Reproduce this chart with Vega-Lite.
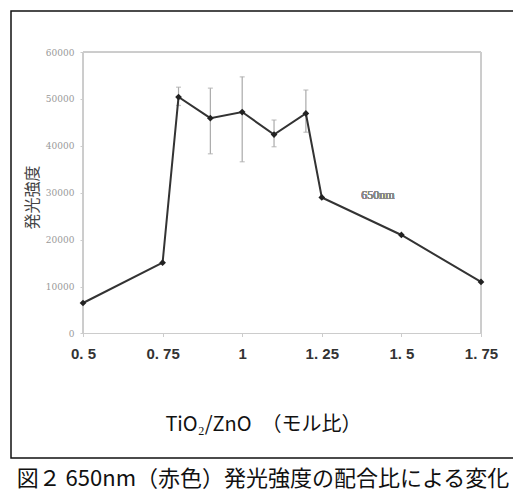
{
  "$schema": "https://vega.github.io/schema/vega-lite/v6.json",
  "width": 504,
  "height": 447,
  "autosize": {"type": "none"},
  "padding": {"left": 11, "top": 11, "right": 0, "bottom": 41},
  "background": "white",
  "title": {
    "text": "図２ 650nm（赤色）発光強度の配合比による変化",
    "orient": "bottom",
    "anchor": "middle",
    "fontSize": 22,
    "font": "Noto Sans CJK JP",
    "fontWeight": "normal",
    "color": "#111",
    "offset": 11
  },
  "config": {
    "view": {"stroke": "#111", "strokeWidth": 1.5, "fill": "white"}
  },
  "data": {
    "values": [
      {"x": 0.5, "y": 6500},
      {"x": 0.75, "y": 15100},
      {"x": 0.8, "y": 50400, "lo": 48600, "hi": 52500},
      {"x": 0.9, "y": 45900, "lo": 38300, "hi": 52300},
      {"x": 1.0, "y": 47200, "lo": 36600, "hi": 54700},
      {"x": 1.1, "y": 42400, "lo": 39800, "hi": 45500},
      {"x": 1.2, "y": 46900, "lo": 42900, "hi": 51900},
      {"x": 1.25, "y": 29000},
      {"x": 1.5, "y": 21000},
      {"x": 1.75, "y": 11000}
    ]
  },
  "encoding": {
    "x": {
      "field": "x",
      "type": "quantitative",
      "scale": {"domain": [0.27387, 1.8568], "nice": false, "zero": false},
      "axis": {
        "values": [0.5, 0.75, 1, 1.25, 1.5, 1.75],
        "labelExpr": "replace(toString(datum.value), '.', '. ')",
        "offset": -124.5,
        "domain": false,
        "grid": false,
        "ticks": true,
        "tickSize": 3,
        "tickColor": "#ccc",
        "labelFont": "Liberation Sans",
        "labelFontWeight": "bold",
        "labelFontSize": 15,
        "labelColor": "#333",
        "labelPadding": 10,
        "title": "TiO₂/ZnO　（モル比）",
        "titleFont": "Noto Sans CJK JP",
        "titleFontWeight": "normal",
        "titleFontSize": 20,
        "titleColor": "#111",
        "titlePadding": 53
      }
    },
    "y": {
      "field": "y",
      "type": "quantitative",
      "scale": {"domain": [-26537, 68739], "nice": false, "zero": false},
      "axis": {
        "values": [0, 10000, 20000, 30000, 40000, 50000, 60000],
        "format": "d",
        "offset": -72,
        "domain": false,
        "grid": false,
        "tickSize": 3,
        "tickColor": "#ccc",
        "labelFont": "DejaVu Serif",
        "labelFontSize": 9,
        "labelColor": "#999",
        "labelPadding": 6,
        "title": "発光強度",
        "titleFont": "Noto Sans CJK JP",
        "titleFontWeight": "normal",
        "titleFontSize": 16,
        "titleColor": "#444",
        "titlePadding": 5,
        "titleY": 186
      }
    }
  },
  "layer": [
    {
      "mark": {"type": "rule", "color": "#ccc", "strokeWidth": 1},
      "encoding": {"x": {"datum": 0.5}, "x2": {"datum": 1.75}, "y": {"datum": 60000}}
    },
    {
      "mark": {"type": "rule", "color": "#ccc", "strokeWidth": 1},
      "encoding": {"x": {"datum": 0.5}, "x2": {"datum": 1.75}, "y": {"datum": 0}}
    },
    {
      "mark": {"type": "rule", "color": "#ccc", "strokeWidth": 1},
      "encoding": {"x": {"datum": 0.5}, "y": {"datum": 0}, "y2": {"datum": 60000}}
    },
    {
      "mark": {"type": "rule", "color": "#ccc", "strokeWidth": 1},
      "encoding": {"x": {"datum": 1.75}, "y": {"datum": 0}, "y2": {"datum": 60000}}
    },
    {
      "transform": [{"filter": "isValid(datum.lo)"}],
      "mark": {"type": "rule", "color": "#aaa", "strokeWidth": 1.2},
      "encoding": {"y": {"field": "lo", "type": "quantitative"}, "y2": {"field": "hi"}}
    },
    {
      "transform": [{"filter": "isValid(datum.lo)"}],
      "mark": {"type": "tick", "orient": "horizontal", "color": "#aaa", "size": 5, "thickness": 1.2},
      "encoding": {"y": {"field": "lo", "type": "quantitative"}}
    },
    {
      "transform": [{"filter": "isValid(datum.lo)"}],
      "mark": {"type": "tick", "orient": "horizontal", "color": "#aaa", "size": 5, "thickness": 1.2},
      "encoding": {"y": {"field": "hi", "type": "quantitative"}}
    },
    {
      "mark": {"type": "line", "color": "#333", "strokeWidth": 2}
    },
    {
      "mark": {"type": "point", "shape": "diamond", "filled": true, "size": 45, "color": "#222", "opacity": 1}
    },
    {
      "mark": {"type": "text", "text": "650nm", "font": "Liberation Serif", "fontSize": 12, "color": "#888"},
      "encoding": {"x": {"datum": 1.4265}, "y": {"datum": 29500}}
    }
  ]
}
